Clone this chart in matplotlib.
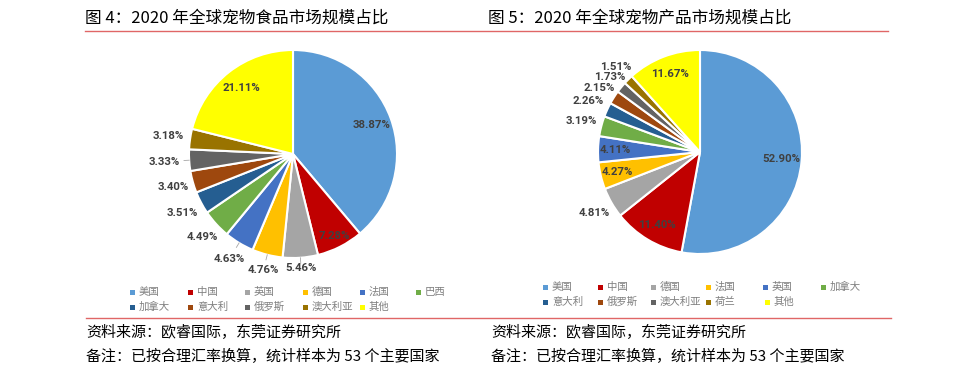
import numpy as np
import matplotlib
matplotlib.use("Agg")
from matplotlib import pyplot as plt
from matplotlib.patches import Rectangle

plt.rcParams['font.family'] = ['Noto Sans CJK SC', 'DejaVu Sans']

# data
food_labels = ['美国', '中国', '英国', '德国', '法国', '巴西',
               '加拿大', '意大利', '俄罗斯', '澳大利亚', '其他']
food_values = [38.87, 7.28, 5.46, 4.76, 4.63, 4.49, 3.51, 3.40, 3.33, 3.18, 21.11]

prod_labels = ['美国', '中国', '德国', '法国', '英国', '加拿大',
               '意大利', '俄罗斯', '澳大利亚', '荷兰', '其他']
prod_values = [52.90, 11.40, 4.81, 4.27, 4.11, 3.19, 2.26, 2.15, 1.73, 1.51, 11.67]

titles = ['图 4：2020 年全球宠物食品市场规模占比', '图 5：2020 年全球宠物产品市场规模占比']
source = '资料来源：欧睿国际，东莞证券研究所'
note = '备注：已按合理汇率换算，统计样本为 53 个主要国家'

colors = ['#5B9BD5', '#C00000', '#A5A5A5', '#FFC000', '#4472C4', '#70AD47',
          '#255E91', '#9E480E', '#636363', '#997300', '#FFFF00']

W, H = 971, 374
fig = plt.figure(figsize=(W / 100, H / 100), dpi=100)
fig.patch.set_facecolor('white')


def pie_axes(cx, cy, r):
    half = 1.4 * r
    ax = fig.add_axes([(cx - half) / W, (H - cy - half) / H, 2 * half / W, 2 * half / H])
    return ax


def draw_pie(ax, values, dists, leaders=()):
    wedges, _ = ax.pie(values, colors=colors, startangle=90, counterclock=False,
                       wedgeprops=dict(edgecolor='white', linewidth=1.5))
    ax.set_xlim(-1.4, 1.4)
    ax.set_ylim(-1.4, 1.4)
    ax.set_aspect('equal')
    ax.set_axis_off()
    for i, (w, v, d) in enumerate(zip(wedges, values, dists)):
        ang = np.deg2rad((w.theta1 + w.theta2) / 2)
        ax.text(d * np.cos(ang), d * np.sin(ang), f'{v:.2f}%', ha='center', va='center',
                fontsize=8.2, fontweight='bold', color='#404040', family=['Roboto', 'DejaVu Sans'])
        if i in leaders:
            ax.plot([1.0 * np.cos(ang), 1.05 * np.cos(ang)],
                    [1.0 * np.sin(ang), 1.05 * np.sin(ang)], color='#A6A6A6', lw=0.6)


ax1 = pie_axes(293, 154, 104)
draw_pie(ax1, food_values, [0.8, 0.88, 1.1, 1.15, 1.18, 1.18, 1.2, 1.2, 1.24, 1.21, 0.8],
         leaders=(2, 3, 4, 8))

ax2 = pie_axes(700, 152, 102)
draw_pie(ax2, prod_values, [0.8, 0.83, 1.2, 0.83, 0.83, 1.2, 1.2, 1.17, 1.15, 1.17, 0.82])

# overlay for titles, rules, legends and footers
ov = fig.add_axes([0, 0, 1, 1], zorder=-1)
ov.set_xlim(0, W)
ov.set_ylim(H, 0)
ov.set_axis_off()

ov.text(85, 18, titles[0], fontsize=12, va='center', ha='left', color='black')
ov.text(488, 18, titles[1], fontsize=12, va='center', ha='left', color='black')
ov.plot([85, 888], [31, 31], color='#E06666', lw=1)
ov.plot([86, 891], [318, 318], color='#E06666', lw=1)

for x in (86, 491):
    ov.text(x, 332, source, fontsize=10.8, va='center', ha='left', color='black')
    ov.text(x, 356, note, fontsize=10.8, va='center', ha='left', color='black')


def legend(labels, xs, ys):
    for i, lab in enumerate(labels):
        x, y = xs[i], ys[i]
        ov.add_patch(Rectangle((x - 2.5, y - 2.5), 5, 5, color=colors[i], lw=0))
        ov.text(x + 7, y, lab, fontsize=7.5, va='center', ha='left', color='#7F7F7F')


c1 = [132, 190, 247, 305, 362, 418]
legend(food_labels, c1 + c1[:4] + [362], [292] * 6 + [307] * 5)
c2 = [545, 600, 653, 708, 765, 823]
legend(prod_labels, c2 + c2[:4] + [767], [287] * 6 + [302] * 5)

fig.savefig('out.png', dpi=100)
